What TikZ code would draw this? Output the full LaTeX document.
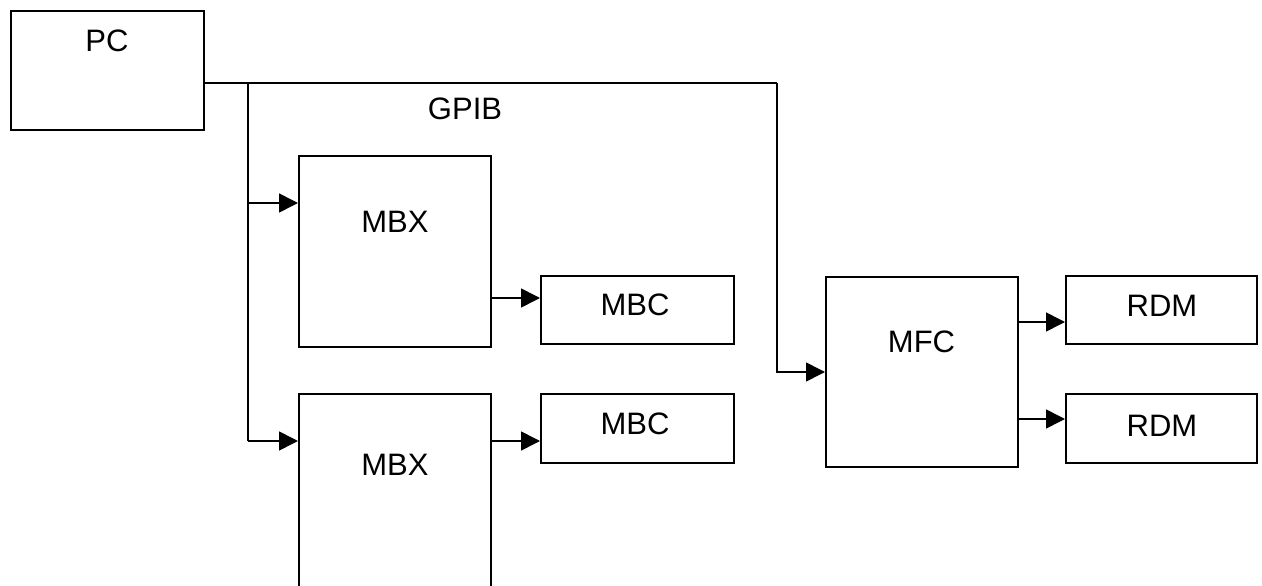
\documentclass[tikz,border=0pt]{standalone}
\usepackage{fontspec}
\setmainfont{Liberation Sans}
\usetikzlibrary{arrows.meta}
\begin{document}
\begin{tikzpicture}[x=1pt,y=-1pt,
  box/.style={draw=black,line width=1.6pt,fill=white,rectangle,inner sep=0pt,anchor=north west},
  lbl/.style={font=\fontsize{31}{36}\selectfont,inner sep=0pt},
  conn/.style={line width=1.6pt},
  arr/.style={line width=1.6pt,-{Triangle[length=19pt,width=19pt]}}]
\useasboundingbox (0,0) rectangle (1262,586);
% boxes
\node[box,minimum width=193pt,minimum height=119pt] (pc) at (10,10) {};
\node[box,minimum width=192pt,minimum height=191pt] (mbx1) at (298,155) {};
\node[box,minimum width=193pt,minimum height=68pt] (mbc1) at (540,275) {};
\node[box,minimum width=192pt,minimum height=230pt] (mbx2) at (298,393) {};
\node[box,minimum width=193pt,minimum height=69pt] (mbc2) at (540,393) {};
\node[box,minimum width=192pt,minimum height=190pt] (mfc) at (825,276) {};
\node[box,minimum width=191pt,minimum height=68pt] (rdm1) at (1065,275) {};
\node[box,minimum width=191pt,minimum height=69pt] (rdm2) at (1065,393) {};
% labels
\node[lbl] (tpc) at (107,41) {PC};
\node[lbl] (tmbx1) at (395,221.5) {MBX};
\node[lbl] (tmbc1) at (635,304.5) {MBC};
\node[lbl] (tmbx2) at (395,464.5) {MBX};
\node[lbl] (tmbc2) at (635,424) {MBC};
\node[lbl] (tmfc) at (921.5,341.5) {MFC};
\node[lbl] (trdm1) at (1162,306) {RDM};
\node[lbl] (trdm2) at (1162,426) {RDM};
\node[lbl] (gpib) at (465,108.5) {GPIB};
% junction coordinates
\coordinate (j1) at (248,83);
\coordinate (j2) at (777,83);
\coordinate (amfc) at (825,372);
\coordinate (ambx1) at (298,203);
\coordinate (ambx2) at (298,441);
\coordinate (ambc1) at (540,298);
\coordinate (ambc2) at (540,441);
\coordinate (ardm1) at (1065,322);
\coordinate (ardm2) at (1065,419);
% connectors
\draw[conn] (pc.east |- j1) -- (j2);
\draw[arr] (j2) -- (j2 |- amfc) -- (amfc);
\draw[conn] (j1) -- (j1 |- ambx2);
\draw[arr] (j1 |- ambx1) -- (ambx1);
\draw[arr] (j1 |- ambx2) -- (ambx2);
\draw[arr] (mbx1.east |- ambc1) -- (ambc1);
\draw[arr] (mbx2.east |- ambc2) -- (ambc2);
\draw[arr] (mfc.east |- ardm1) -- (ardm1);
\draw[arr] (mfc.east |- ardm2) -- (ardm2);
\end{tikzpicture}
\end{document}
